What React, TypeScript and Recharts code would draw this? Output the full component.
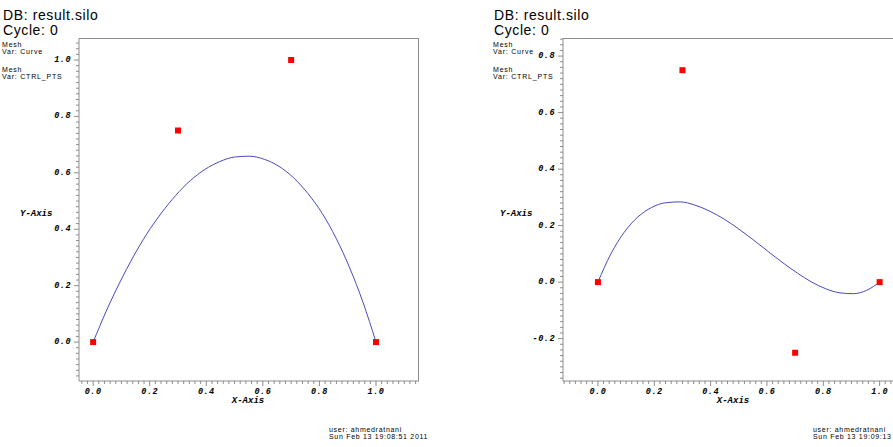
import React from 'react';
import { ComposedChart, Line, Scatter, XAxis, YAxis } from 'recharts';

// curve samples (both curves share the same x positions)
const curveX = [0, 0.046, 0.093, 0.141, 0.19, 0.241, 0.292, 0.343, 0.395, 0.448, 0.5, 0.552, 0.605, 0.657, 0.708, 0.759, 0.81, 0.859, 0.907, 0.954, 1.0];
const leftCurveY = [0, 0.109, 0.209, 0.301, 0.384, 0.457, 0.52, 0.572, 0.612, 0.64, 0.656, 0.659, 0.648, 0.623, 0.583, 0.527, 0.456, 0.368, 0.263, 0.141, 0];
const rightCurveY = [0, 0.1, 0.176, 0.23, 0.264, 0.281, 0.284, 0.273, 0.252, 0.223, 0.188, 0.149, 0.108, 0.068, 0.032, 0.0, -0.024, -0.038, -0.041, -0.029, 0];

// control points (red squares)
const ctrlX = [0, 0.3, 0.7, 1.0];
const leftCtrlY = [0, 0.75, 1.0, 0];
const rightCtrlY = [0, 0.75, -0.25, 0];

// labelled (major) ticks
const leftXLabels = [0, 0.2, 0.4, 0.6, 0.8, 1.0];
const leftYLabels = [0, 0.2, 0.4, 0.6, 0.8, 1.0];
const rightXLabels = [0, 0.2, 0.4, 0.6, 0.8, 1.0];
const rightYLabels = [-0.2, 0, 0.2, 0.4, 0.6, 0.8];

const AXIS = '#8c8c8c';
const CURVE = '#4a4ac0';
const MONO = '"Liberation Mono", "DejaVu Sans Mono", monospace';
const SANS = '"Liberation Sans", Arial, sans-serif';

const toPoints = (xs: number[], ys: number[]) => xs.map((x, i) => ({ x, y: ys[i] }));

// minor ticks every 0.02 inside the domain
const tickSteps = (from: number, to: number) => {
  const out: number[] = [];
  for (let i = Math.ceil(from * 50); i <= Math.floor(to * 50); i++) out.push(i / 50);
  return out;
};

const isMajor = (v: number, labels: number[]) => labels.some((l) => Math.abs(l - v) < 1e-6);

const tickText = {
  fontFamily: MONO,
  fontSize: 8.5,
  fontWeight: 'bold' as const,
  fontStyle: 'italic' as const,
  fill: '#000',
  letterSpacing: 0.5,
};

const YTick = (props: any) => {
  const { x, y, payload, labels } = props;
  const major = isMajor(payload.value, labels);
  return (
    <g>
      <line x1={x} x2={x - (major ? 5 : 3)} y1={y} y2={y} stroke={AXIS} strokeWidth={1} />
      {major && (
        <text x={x - 8} y={y} textAnchor="end" dominantBaseline="central" {...tickText}>
          {payload.value.toFixed(1)}
        </text>
      )}
    </g>
  );
};

const XTick = (props: any) => {
  const { x, y, payload, labels } = props;
  const major = isMajor(payload.value, labels);
  return (
    <g>
      <line x1={x} x2={x} y1={y} y2={y + (major ? 5 : 3)} stroke={AXIS} strokeWidth={1} />
      {major && (
        <text x={x} y={y + 13} textAnchor="middle" {...tickText}>
          {payload.value.toFixed(1)}
        </text>
      )}
    </g>
  );
};

const Square = (props: any) => {
  const { cx, cy } = props;
  if (cx == null || cy == null) return null;
  return <rect x={cx - 3} y={cy - 3} width={6} height={6} fill="#ff0000" />;
};

interface PlotProps {
  left: number;
  width: number;
  yAxisWidth: number;
  marginRight: number;
  xDomain: [number, number];
  yDomain: [number, number];
  xLabels: number[];
  yLabels: number[];
  curve: { x: number; y: number }[];
  pts: { x: number; y: number }[];
}

const Plot: React.FC<PlotProps> = ({ left, width, yAxisWidth, marginRight, xDomain, yDomain, xLabels, yLabels, curve, pts }) => (
  <div style={{ position: 'absolute', left, top: 0 }}>
    <ComposedChart width={width} height={447} margin={{ top: 38, right: marginRight, bottom: 0, left: 0 }}>
      <XAxis
        dataKey="x"
        type="number"
        domain={xDomain}
        allowDataOverflow
        ticks={tickSteps(xDomain[0], xDomain[1])}
        interval={0}
        height={66}
        tickSize={0}
        tickMargin={0}
        tickLine={false}
        axisLine={{ stroke: AXIS }}
        tick={(p: any) => <XTick {...p} labels={xLabels} />}
      />
      <YAxis
        dataKey="y"
        type="number"
        domain={yDomain}
        allowDataOverflow
        ticks={tickSteps(yDomain[0], yDomain[1])}
        interval={0}
        width={yAxisWidth}
        tickSize={0}
        tickMargin={0}
        tickLine={false}
        axisLine={{ stroke: AXIS }}
        tick={(p: any) => <YTick {...p} labels={yLabels} />}
      />
      <Line
        data={curve}
        dataKey="y"
        type="monotone"
        stroke={CURVE}
        strokeWidth={1}
        dot={false}
        activeDot={false}
        isAnimationActive={false}
      />
      <Scatter data={pts} dataKey="y" shape={<Square />} isAnimationActive={false} />
    </ComposedChart>
  </div>
);

const Caption = ({ dx }: { dx: number }) => (
  <g>
    <text x={dx + 3} y={20} fontFamily={SANS} fontSize={14} letterSpacing={0.6} fill="#000">DB: result.silo</text>
    <text x={dx + 3} y={35} fontFamily={SANS} fontSize={14} letterSpacing={0.6} fill="#000">Cycle: 0</text>
    <text x={dx + 2} y={47} fontFamily={SANS} fontSize={7} letterSpacing={0.8} fill="#000">Mesh</text>
    <text x={dx + 2} y={54} fontFamily={SANS} fontSize={7} letterSpacing={0.8} fill="#000">Var: Curve</text>
    <text x={dx + 2} y={72} fontFamily={SANS} fontSize={7} letterSpacing={0.8} fill="#000">Mesh</text>
    <text x={dx + 2} y={79} fontFamily={SANS} fontSize={7} letterSpacing={0.8} fill="#000">Var: CTRL_PTS</text>
  </g>
);

const axisTitle = { fontFamily: MONO, fontSize: 9, fontWeight: 'bold' as const, fontStyle: 'italic' as const, fill: '#000' };
const footer = { fontFamily: SANS, fontSize: 7, letterSpacing: 0.7, fill: '#000' };

export default function App() {
  return (
    <div style={{ position: 'absolute', left: 0, top: 0, width: 893, height: 447, overflow: 'hidden', background: '#fff' }}>
      <Plot
        left={0}
        width={430}
        yAxisWidth={79}
        marginRight={11}
        xDomain={[-0.05, 1.152]}
        yDomain={[-0.138, 1.078]}
        xLabels={leftXLabels}
        yLabels={leftYLabels}
        curve={toPoints(curveX, leftCurveY)}
        pts={toPoints(ctrlX, leftCtrlY)}
      />
      <Plot
        left={480}
        width={440}
        yAxisWidth={83}
        marginRight={15}
        xDomain={[-0.124, 1.09]}
        yDomain={[-0.35, 0.864]}
        xLabels={rightXLabels}
        yLabels={rightYLabels}
        curve={toPoints(curveX, rightCurveY)}
        pts={toPoints(ctrlX, rightCtrlY)}
      />
      {/* top / right frame lines of each viewport */}
      <div style={{ position: 'absolute', left: 79, top: 38, width: 340, height: 343, borderTop: `1px solid ${AXIS}`, borderRight: `1px solid ${AXIS}`, boxSizing: 'border-box', pointerEvents: 'none' }} />
      <div style={{ position: 'absolute', left: 563, top: 38, width: 342, height: 343, borderTop: `1px solid ${AXIS}`, borderRight: `1px solid ${AXIS}`, boxSizing: 'border-box', pointerEvents: 'none' }} />
      <svg width={893} height={447} style={{ position: 'absolute', left: 0, top: 0, pointerEvents: 'none' }}>
        <Caption dx={0} />
        <Caption dx={491} />
        <text x={20} y={216} {...axisTitle}>Y-Axis</text>
        <text x={500} y={216} {...axisTitle}>Y-Axis</text>
        <text x={248} y={403} textAnchor="middle" {...axisTitle}>X-Axis</text>
        <text x={733} y={403} textAnchor="middle" {...axisTitle}>X-Axis</text>
        <text x={329} y={432} {...footer}>user: ahmedratnani</text>
        <text x={329} y={439} {...footer}>Sun Feb 13 19:08:51 2011</text>
        <text x={813} y={432} {...footer}>user: ahmedratnani</text>
        <text x={813} y={439} {...footer}>Sun Feb 13 19:09:13 2011</text>
      </svg>
    </div>
  );
}
